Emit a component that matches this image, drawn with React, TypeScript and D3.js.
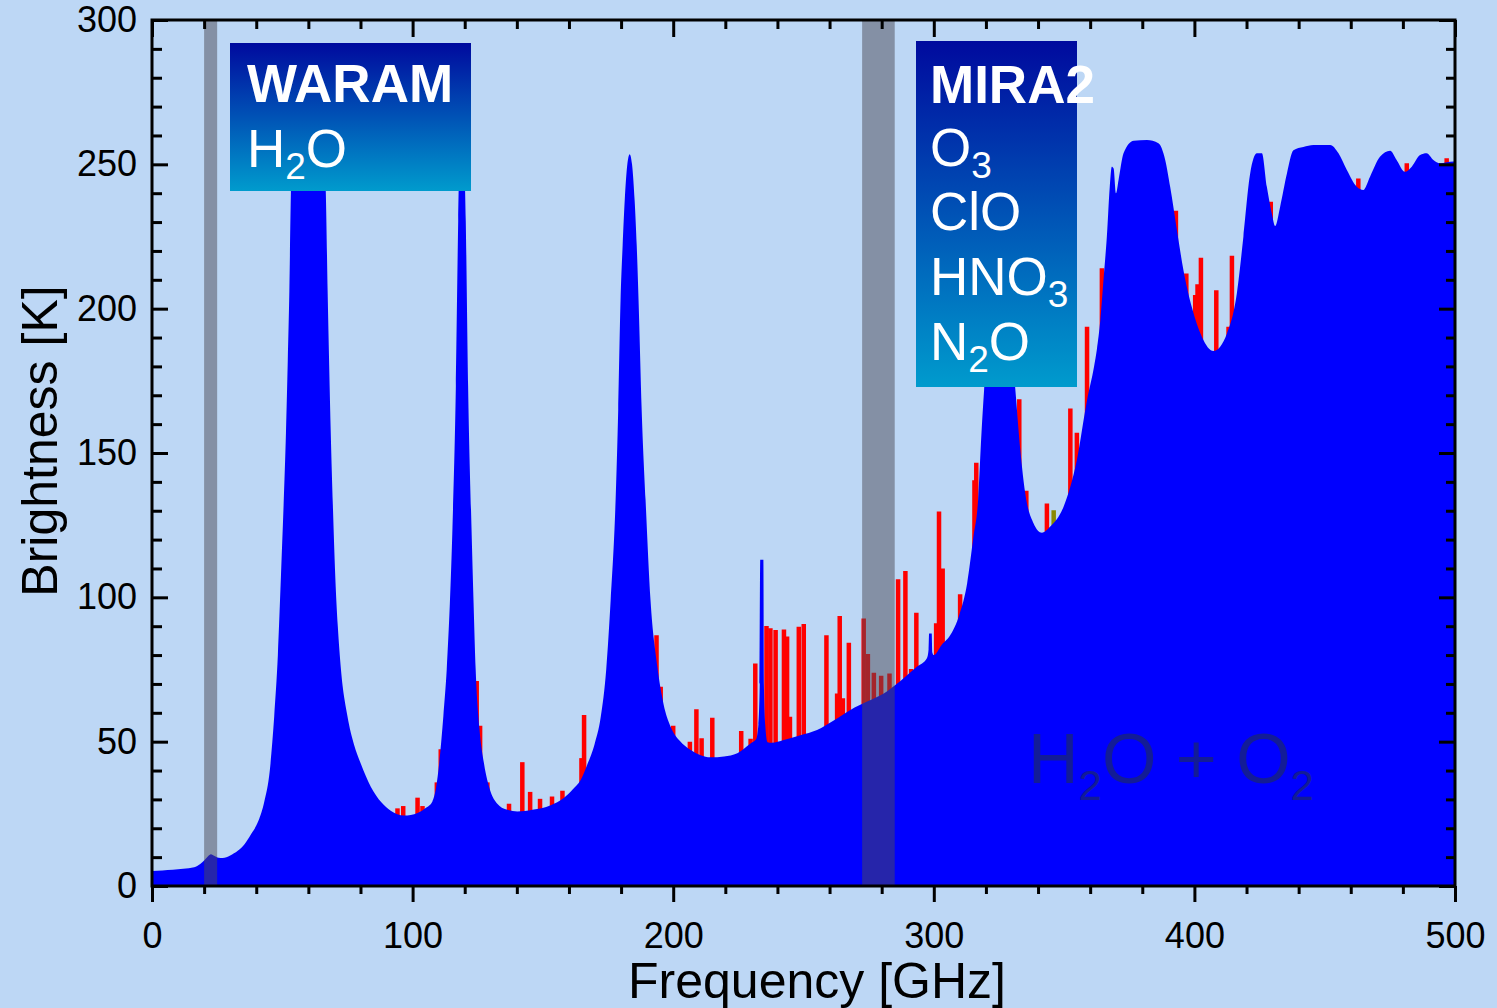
import React, { useRef, useEffect } from 'react';
import * as d3 from 'd3';

// clear-sky brightness (H2O + O2 continuum), [GHz, K]
const h2oO2Spectrum: [number, number][] = [
  [0, 5.2], [4, 5.4], [8, 5.6], [12, 6.0], [16.2, 6.5], [18.5, 7.6], [20.1, 8.9], [21.5, 10.3],
  [22.6, 11.0], [24, 10.4], [25.5, 9.8], [27.1, 9.7], [30, 10.6], [32.9, 12.2], [35.5, 14.5],
  [38, 17.9], [40.8, 22.5], [43.1, 29.3], [45.2, 40], [46.9, 58.8], [48.3, 80], [49.5, 107.8],
  [50.5, 132], [51.4, 156.8], [52.1, 182], [52.7, 205.9], [53.3, 240.2], [54, 258], [56, 264],
  [60, 265], [64, 264], [66, 258], [66.7, 240.2], [67.4, 205.9], [68, 180], [68.6, 156.8],
  [69.4, 132], [70.3, 107.8], [71.3, 90], [72.5, 75.1], [75, 58.8], [77.5, 49], [80.1, 42.4],
  [84, 34.3], [88, 29], [91.6, 26.1], [96.7, 24.4], [101.9, 25.3], [105, 27], [107.6, 29.3],
  [109, 34], [110.2, 42.4], [111.8, 58.8], [113.1, 75.1], [114.3, 98], [115.3, 124.2],
  [116.6, 173.2], [117.5, 230.4], [118.2, 258], [118.9, 264], [119.6, 258], [120.4, 230.4],
  [121.3, 173.2], [122.6, 124.2], [123.4, 98], [124.2, 75.1], [125.6, 55], [127.4, 42.4],
  [129.8, 33], [132.5, 28.5], [136, 26.5], [140.2, 25.8], [146, 26.4], [153, 28], [158, 30.5],
  [161.5, 33.5], [164.5, 36.7], [167, 42], [169.8, 49], [172.2, 58.6], [174.3, 75], [176, 99],
  [177.9, 133.7], [178.9, 165], [179.8, 203], [180.6, 222], [181.4, 237.6], [182.4, 250],
  [183.3, 253.5], [184.2, 250], [185.2, 237.6], [186, 222], [186.7, 203], [187.9, 165],
  [189.4, 133.7], [191.3, 99], [193.9, 76], [196.3, 63], [199, 55.2], [202.5, 50.3],
  [206.7, 47.1], [210.5, 45.3], [214.3, 44.6], [219.5, 44.9], [224.6, 46], [229.7, 49.4],
  [231.8, 50.8], [232.7, 56], [233.2, 70], [233.4, 113], [234.6, 113], [234.8, 70],
  [235.3, 56], [236.2, 49.8], [237.8, 49.6],
  [242.4, 50.6], [248.8, 52.2], [255.2, 54], [261.6, 57.3], [268, 61], [274.4, 63.9],
  [280.8, 66.7], [287.2, 71], [293.6, 76], [297.4, 79], [298, 82], [298.2, 87.5], [299.2, 87.5],
  [299.4, 81], [300, 80], [303, 83.5],
  [306.4, 87], [309.8, 94], [312.8, 104.9], [315.2, 121], [317, 133.7], [318.3, 157],
  [319.3, 171.8], [320.5, 186], [322.5, 197], [325.2, 202], [328, 197], [330, 186],
  [331.3, 171.8], [333.2, 151], [335.1, 136], [338.3, 125.6], [341.5, 122.4], [344.7, 124.5],
  [349.8, 131.4], [354.9, 147.6], [358.8, 168.3], [361.5, 180], [362.6, 186], [363.9, 196],
  [365.2, 211], [366.4, 224.9], [367.5, 242], [368.3, 249.2], [369, 248.6], [369.9, 240],
  [370.9, 244.6], [372.8, 253.8], [376.7, 258.2], [381.8, 258.4], [386.2, 257.3], [388.8, 251.5],
  [390.7, 242.2], [393.3, 227.2], [395.8, 213.3], [399, 200.6], [402.9, 190.2], [407.3, 185.3],
  [412.5, 191.4], [416.3, 205.3], [418.8, 224.9], [421.4, 246.8], [424, 253.8], [425.9, 253.8],
  [427.8, 242.2], [429.7, 233], [431, 228.6], [432.9, 235.3], [435.5, 246.8], [438, 254.9],
  [441.8, 256], [445.7, 256.7], [452.1, 256.7], [455.3, 253.8], [458.5, 248], [462.3, 242.2],
  [464.8, 241.1], [467.4, 245.7], [471.2, 252.6], [475.1, 254.7], [477.6, 251.5], [480.8, 247.4],
  [483.4, 249.2], [486.6, 253.2], [489.1, 253.8], [491.7, 251.5], [494.2, 250.4], [499.4, 251],
  [500, 251],
];

// trace gas lines (O3, ClO, HNO3, N2O ...), [GHz, peak K]
const traceLines: [number, number][] = [
  [94.2, 26.9], [96.4, 27.7], [101.9, 30.6], [103.8, 27.7], [109.3, 35.9], [110.8, 47.4],
  [124.6, 71], [125.9, 55.5], [128.7, 35.9], [137, 28.5], [142.1, 42.9], [145.1, 32.6],
  [148.9, 30.2], [153.5, 31], [157.5, 33], [164.8, 44.3], [165.8, 59.2], [193.6, 86.9],
  [195.2, 69], [200, 55.5], [206.4, 50], [208.9, 61.2], [210.9, 51.2], [215, 58.3],
  [226.1, 53.7], [229.7, 51], [231.5, 77.1], [235.8, 90.1], [237.3, 89.3], [239.3, 88.7],
  [242.5, 88.9], [243.7, 86.4], [244.8, 58.6], [248.2, 89.8], [250.1, 90.8], [258.8, 86.9],
  [262.9, 66.7], [263.9, 93.5], [265.1, 65], [267.4, 84.3], [273.1, 92.7], [274.7, 80.4],
  [277, 73.9], [279.8, 72.8], [283, 73.6], [286.3, 106.3], [289.1, 109.1], [291.3, 75.2],
  [293.3, 94.7], [300.9, 91], [302, 129.7], [303.4, 110], [310.1, 101.1], [315.6, 140.6],
  [316.3, 146.6], [332.8, 168.6], [335.5, 136.9], [343.4, 132.5], [352.4, 165.4], [354.9, 157],
  [358.8, 193.7], [364.5, 214], [392.9, 233.9], [396.9, 212.2], [400.3, 204.7], [401.2, 208.5],
  [402.5, 217.6], [408.4, 206.4], [413.1, 193.7], [414.4, 218.3], [429.3, 237], [462.9, 245.1],
  [481.5, 250.4], [496.8, 252.1],
];

const weakLines: [number, number][] = [[346, 130.2]];

// instrument bands, [GHz from, GHz to]
const instrumentBands: [number, number][] = [[20, 25], [272.5, 285]];

const xMajorTicks = [0, 100, 200, 300, 400, 500];
const xMinorTicks = [20, 40, 60, 80, 120, 140, 160, 180, 220, 240, 260, 280, 320, 340, 360, 380, 420, 440, 460, 480];
const yMajorTicks = [0, 50, 100, 150, 200, 250, 300];
const yMinorTicks = [10, 20, 30, 40, 60, 70, 80, 90, 110, 120, 130, 140, 160, 170, 180, 190, 210, 220, 230, 240, 260, 270, 280, 290];

const FONT = 'Liberation Sans, Arial, sans-serif';

const App = () => {
  const svgRef = useRef<SVGSVGElement>(null);

  useEffect(() => {
    const width = 1497;
    const height = 1008;
    const left = 152, right = 1455, top = 20, bottom = 886;

    const svg = d3.select(svgRef.current);
    svg.selectAll('*').remove();

    const x = d3.scaleLinear().domain([0, 500]).range([left, right]);
    const y = d3.scaleLinear().domain([0, 300]).range([bottom, top]);

    svg.append('rect').attr('width', width).attr('height', height).attr('fill', '#bdd7f5');

    const defs = svg.append('defs');
    defs.append('clipPath').attr('id', 'plot-clip')
      .append('rect').attr('x', left).attr('y', top).attr('width', right - left).attr('height', bottom - top);
    const grad = defs.append('linearGradient').attr('id', 'box-grad')
      .attr('x1', 0).attr('y1', 0).attr('x2', 0).attr('y2', 1);
    grad.append('stop').attr('offset', '0%').attr('stop-color', '#000a9e');
    grad.append('stop').attr('offset', '100%').attr('stop-color', '#009bcd');

    const plot = svg.append('g').attr('clip-path', 'url(#plot-clip)');

    // red trace gas lines behind the continuum
    plot.selectAll('.trace')
      .data(traceLines)
      .enter()
      .append('line')
      .attr('x1', d => x(d[0])).attr('x2', d => x(d[0]))
      .attr('y1', y(0)).attr('y2', d => y(d[1]))
      .attr('stroke', '#ff0000').attr('stroke-width', 4.5);

    plot.selectAll('.weak')
      .data(weakLines)
      .enter()
      .append('line')
      .attr('x1', d => x(d[0])).attr('x2', d => x(d[0]))
      .attr('y1', y(0)).attr('y2', d => y(d[1]))
      .attr('stroke', '#8a8a00').attr('stroke-width', 4.5);

    const area = d3.area<[number, number]>()
      .x(d => x(d[0]))
      .y0(y(0))
      .y1(d => y(d[1]))
      .curve(d3.curveMonotoneX);

    plot.append('path').datum(h2oO2Spectrum).attr('d', area).attr('fill', '#0000ff');

    // instrument bands
    plot.selectAll('.band')
      .data(instrumentBands)
      .enter()
      .append('rect')
      .attr('x', d => x(d[0]))
      .attr('width', d => x(d[1]) - x(d[0]))
      .attr('y', y(300))
      .attr('height', y(0) - y(300))
      .attr('fill', 'rgb(76,74,85)')
      .attr('opacity', 0.5);

    // H2O + O2 label on the fill
    const big = svg.append('text')
      .attr('x', 1028).attr('y', 783)
      .attr('font-family', FONT).attr('font-size', 70).attr('fill', '#131c96');
    big.append('tspan').text('H');
    big.append('tspan').attr('dy', 17).attr('font-size', 42).text('2');
    big.append('tspan').attr('dy', -17).text('O + O');
    big.append('tspan').attr('dy', 17).attr('font-size', 42).text('2');

    // instrument boxes
    const boxes = [
      { x0: 230, y0: 43, x1: 471, y1: 191, title: 'WARAM', tx: 247, ty: 102,
        lines: [{ parts: [['H', 0], ['2', 1], ['O', 0]], ty: 167 }] },
      { x0: 916, y0: 41, x1: 1077, y1: 387, title: 'MIRA2', tx: 930, ty: 103,
        lines: [
          { parts: [['O', 0], ['3', 1]], ty: 166 },
          { parts: [['ClO', 0]], ty: 230 },
          { parts: [['HNO', 0], ['3', 1]], ty: 295 },
          { parts: [['N', 0], ['2', 1], ['O', 0]], ty: 360 },
        ] },
    ];

    boxes.forEach(b => {
      svg.append('rect')
        .attr('x', b.x0).attr('y', b.y0)
        .attr('width', b.x1 - b.x0).attr('height', b.y1 - b.y0)
        .attr('fill', 'url(#box-grad)');
      svg.append('text')
        .attr('x', b.tx).attr('y', b.ty)
        .attr('font-family', FONT).attr('font-size', 53).attr('font-weight', 'bold')
        .attr('fill', '#ffffff').text(b.title);
      b.lines.forEach(l => {
        const t = svg.append('text')
          .attr('x', b.tx).attr('y', l.ty)
          .attr('font-family', FONT).attr('font-size', 53).attr('fill', '#ffffff');
        let sub = 0;
        l.parts.forEach(([s, isSub]) => {
          const dy = (isSub as number) - sub;
          const ts = t.append('tspan').text(s as string);
          if (dy !== 0) ts.attr('dy', dy * 12);
          if (isSub) ts.attr('font-size', 37);
          sub = isSub as number;
        });
      });
    });

    // axes
    const styleAxis = (g: any) => {
      g.select('.domain').remove();
      g.selectAll('line').attr('stroke', '#000').attr('stroke-width', 3);
      g.selectAll('text').attr('font-family', FONT).attr('font-size', 36).attr('fill', '#000');
      g.attr('font-family', null).attr('font-size', null);
    };

    svg.append('g').attr('transform', `translate(0,${bottom})`)
      .call(d3.axisBottom(x).tickValues(xMajorTicks).tickSize(16).tickSizeOuter(0).tickPadding(20).tickFormat(d3.format('d')))
      .call(styleAxis);
    svg.append('g').attr('transform', `translate(0,${bottom})`)
      .call(d3.axisBottom(x).tickValues(xMinorTicks).tickSize(8).tickSizeOuter(0).tickFormat(() => ''))
      .call(styleAxis);
    svg.append('g').attr('transform', `translate(0,${top})`)
      .call(d3.axisTop(x).tickValues(xMajorTicks).tickSize(-17).tickSizeOuter(0).tickFormat(() => ''))
      .call(styleAxis);
    svg.append('g').attr('transform', `translate(0,${top})`)
      .call(d3.axisTop(x).tickValues(xMinorTicks).tickSize(-9).tickSizeOuter(0).tickFormat(() => ''))
      .call(styleAxis);
    svg.append('g').attr('transform', `translate(${left},0)`)
      .call(d3.axisLeft(y).tickValues(yMajorTicks).tickSize(-16).tickSizeOuter(0).tickPadding(15).tickFormat(d3.format('d')))
      .call(styleAxis);
    svg.append('g').attr('transform', `translate(${left},0)`)
      .call(d3.axisLeft(y).tickValues(yMinorTicks).tickSize(-10).tickSizeOuter(0).tickFormat(() => ''))
      .call(styleAxis);
    svg.append('g').attr('transform', `translate(${right},0)`)
      .call(d3.axisRight(y).tickValues(yMajorTicks).tickSize(-16).tickSizeOuter(0).tickFormat(() => ''))
      .call(styleAxis);
    svg.append('g').attr('transform', `translate(${right},0)`)
      .call(d3.axisRight(y).tickValues(yMinorTicks).tickSize(-9).tickSizeOuter(0).tickFormat(() => ''))
      .call(styleAxis);

    // frame
    svg.append('rect')
      .attr('x', left).attr('y', top)
      .attr('width', right - left).attr('height', bottom - top)
      .attr('fill', 'none').attr('stroke', '#000').attr('stroke-width', 3);

    // axis titles
    svg.append('text')
      .attr('x', 817).attr('y', 998)
      .attr('text-anchor', 'middle')
      .attr('font-family', FONT).attr('font-size', 50).attr('fill', '#000')
      .text('Frequency [GHz]');
    svg.append('text')
      .attr('transform', 'translate(57,441) rotate(-90)')
      .attr('text-anchor', 'middle')
      .attr('font-family', FONT).attr('font-size', 50).attr('fill', '#000')
      .text('Brightness [K]');
  }, []);

  return (
    <svg
      ref={svgRef}
      width={1497}
      height={1008}
      style={{ position: 'absolute', left: 0, top: 0, display: 'block' }}
    />
  );
};

export default App;
